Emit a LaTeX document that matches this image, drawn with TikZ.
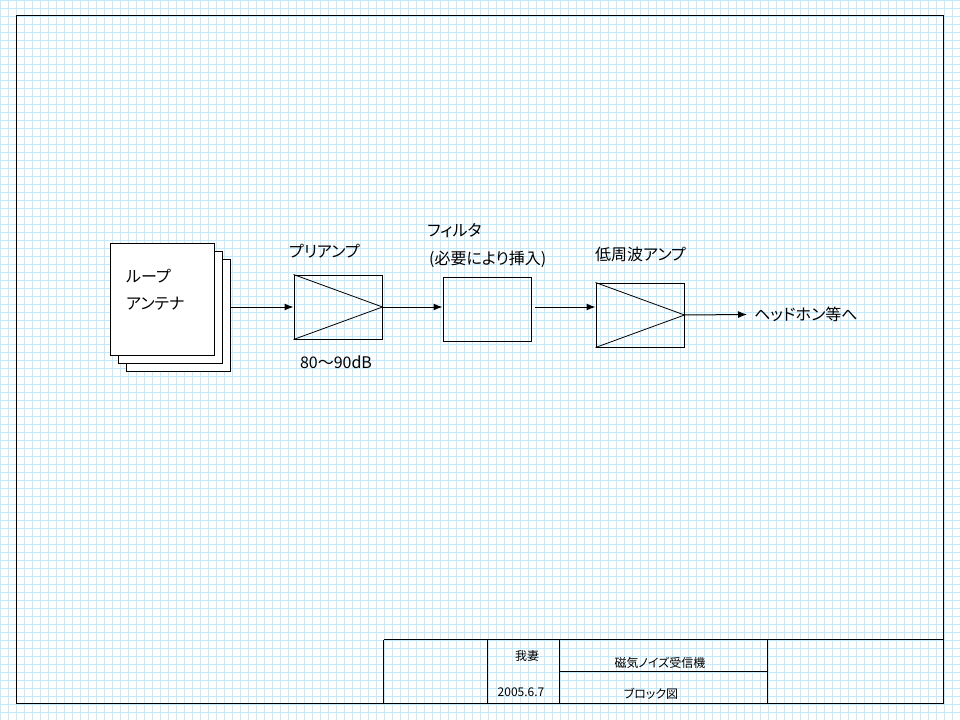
\documentclass[tikz,border=0pt]{standalone}
\usepackage{fontspec}
\setmainfont{Noto Sans CJK JP}[RawFeature={+palt}]
\usetikzlibrary{arrows.meta,calc}
\definecolor{gridc}{RGB}{194,234,255}
\tikzset{
  gridline/.style={draw=gridc,line width=1bp},
  frame/.style={draw=black,line width=1bp},
  blk/.style={draw=black,line width=1bp,minimum width=88bp,minimum height=64bp,anchor=north west,inner sep=0pt},
  sheet/.style={draw=black,fill=white,line width=1bp,minimum width=104bp,minimum height=112bp,anchor=north west,inner sep=0pt},
  lbl/.style={inner sep=0pt,font=\fontsize{16bp}{18bp}\selectfont},
  small/.style={inner sep=0pt,font=\fontsize{12bp}{14bp}\selectfont},
  arr/.style={draw=black,line width=1bp,-{Latex[length=9bp,width=7bp]}}
}
\begin{document}
\begin{tikzpicture}[x=1bp,y=-1bp]
\useasboundingbox (0,0) rectangle (960,720);
\fill[white] (0,0) rectangle (960,720);
% grid
\foreach \i in {0,8,...,960} \draw[gridline] (\i+0.5,0) -- (\i+0.5,720);
\foreach \j in {0,8,...,720} \draw[gridline] (0,\j+0.5) -- (960,\j+0.5);
% frame
\draw[frame] (16,16) rectangle (943,703);
% title block
\draw[frame] (384,639.5) -- (943,639.5);
\draw[frame] (383.5,639.5) -- (383.5,703);
\draw[frame] (487.5,639.5) -- (487.5,703);
\draw[frame] (559.5,639.5) -- (559.5,703);
\draw[frame] (767.5,639.5) -- (767.5,703);
\draw[frame] (559.5,671.5) -- (767.5,671.5);
\node[small] (author) at (527,656) {我妻};
\node[small] (date) at (521,692) {2005.6.7};
\node[small] (title) at (660,663) {磁気ノイズ受信機};
\node[small] (sub) at (651,694) {ブロック図};
% antenna
\node[sheet] (ant3) at (125.5,258.5) {};
\node[sheet] (ant2) at (117.5,250.5) {};
\node[sheet] (ant) at (109.5,242.5) {};
\node[lbl,anchor=west] (antA) at (126,276) {ループ};
\node[lbl,anchor=west] (antB) at (126,304) {アンテナ};
% preamp
\node[blk] (pre) at (293.5,274.5) {};
\draw[line width=0.8bp] (pre.north west) -- (pre.east) -- (pre.south west);
\node[lbl,anchor=west] (preL) at (289,251) {プリアンプ};
\node[lbl] (gain) at (336,362) {80〜90dB};
% filter
\node[blk] (filt) at (442.5,276.5) {};
\node[lbl,anchor=west] (filtL) at (427,231) {フィルタ};
\node[lbl,anchor=west] (filtN) at (429,259) {(必要により挿入)};
% LF amp
\node[blk] (amp) at (595.5,282.5) {};
\draw[line width=0.8bp] (amp.north west) -- (amp.east) -- (amp.south west);
\node[lbl,anchor=west] (ampL) at (595,254) {低周波アンプ};
\node[lbl,anchor=west,inner xsep=7bp] (hp) at (747,314.5) {ヘッドホン等へ};
% connectors
\coordinate (a1) at ($(pre.west -| ant3.east)$);
\draw[arr] (a1) -- (pre.west);
\draw[arr] (pre.east) -- (pre.east -| filt.west);
\coordinate (f1) at ([xshift=3bp]filt.east |- pre.east);
\draw[arr] (f1) -- (f1 -| amp.west);
\draw[arr] (amp.east) -- (hp.west);
\end{tikzpicture}
\end{document}
